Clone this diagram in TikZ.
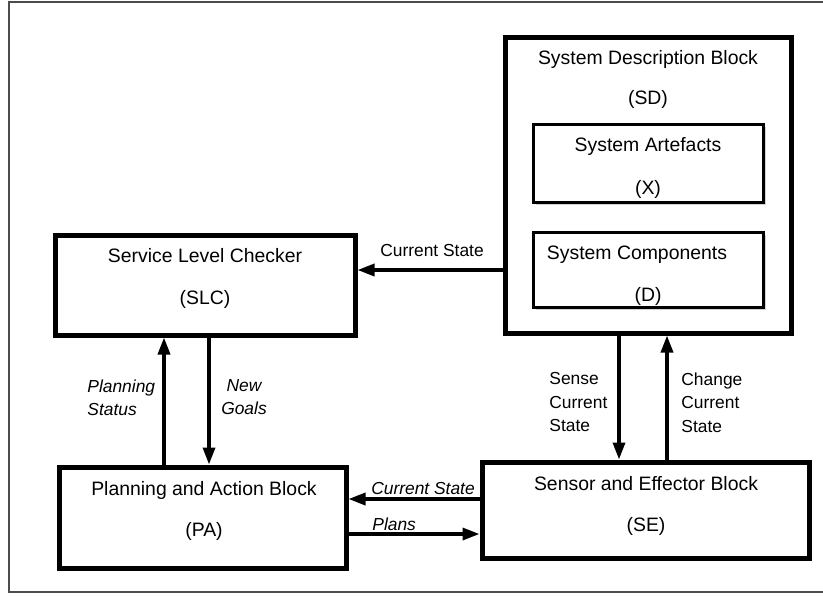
\documentclass[tikz,border=0pt]{standalone}
\usepackage{fontspec}
\setmainfont{Liberation Sans}
\usetikzlibrary{arrows.meta,shadows}

\tikzset{
  blk/.style={draw, line width=2.5pt, fill=white, inner sep=0pt,
    drop shadow={shadow xshift=1.3pt, shadow yshift=-1.3pt, opacity=.35}},
  subblk/.style={blk, line width=1.5pt},
  ttl/.style={font=\fontsize{9.7}{12}\selectfont, inner sep=0pt, anchor=base},
  lbl/.style={font=\fontsize{8.7}{11.8}\selectfont, inner sep=0pt},
  arr/.style={line width=1.7pt, -{Triangle[length=8.5pt,width=6pt]}},
}

\begin{document}
\begin{tikzpicture}[x=0.5pt,y=-0.5pt]
\useasboundingbox (0,0) rectangle (823,595);
% frame (its right side lies past the edge)
\draw[black!70, line width=1pt] (824,1.5) -- (9,1.5) -- (9,592) -- (824,592);

% blocks
\node[blk, minimum width=143pt, minimum height=148pt] (sd) at (648,185) {};
\node[subblk, minimum width=115pt, minimum height=39pt] (sa) at (648,163) {};
\node[subblk, minimum width=115pt, minimum height=37.5pt] (sc) at (648,269.5) {};
\node[blk, minimum width=150pt, minimum height=50pt] (slc) at (205,285) {};
\node[blk, minimum width=143.5pt, minimum height=50.5pt] (pa) at (202.5,517.5) {};
\node[blk, minimum width=163.5pt, minimum height=48pt] (se) at (645.5,510) {};

% block titles
\node[ttl] (sdname) at (648,64) {System Description Block};
\node[ttl] (sdcode) at (648,104) {(SD)};
\node[ttl] (saname) at (648,151) {System Artefacts};
\node[ttl] (sacode) at (648,194) {(X)};
\node[ttl] (scname) at (637,259) {System Components};
\node[ttl] (sccode) at (648,301) {(D)};
\node[ttl] (slcname) at (205,262) {Service Level Checker};
\node[ttl] (slccode) at (205,304) {(SLC)};
\node[ttl] (paname) at (204,495) {Planning and Action Block};
\node[ttl] (pacode) at (204,536) {(PA)};
\node[ttl] (sename) at (646,490) {Sensor and Effector Block};
\node[ttl] (secode) at (646,531) {(SE)};

% connectors
\draw[arr] (sd.west |- 0,270) -- (slc.east |- 0,270);
\draw[arr] (pa.north -| 164,0) -- (slc.south -| 164,0);
\draw[arr] (slc.south -| 209,0) -- (pa.north -| 209,0);
\draw[arr] (sd.south -| 619,0) -- (se.north -| 619,0);
\draw[arr] (se.north -| 667,0) -- (sd.south -| 667,0);
\draw[arr] (se.west |- 0,499) -- (pa.east |- 0,499);
\draw[arr] (pa.east |- 0,534) -- (se.west |- 0,534);

% connector labels
\node[lbl, anchor=base] (cstop) at (432,256) {Current State};
\node[lbl, align=left, anchor=north west] (pstat) at (87,379) {\itshape Planning\\\itshape Status};
\node[lbl, align=center, anchor=north] (goals) at (244,379) {\itshape New\\\itshape Goals};
\node[lbl, align=left, anchor=north west] (sense) at (549,372) {Sense\\Current\\State};
\node[lbl, align=left, anchor=north west] (change) at (681,372) {Change\\Current\\State};
\node[lbl, anchor=base, font=\fontsize{8.7}{11.8}\selectfont\itshape] (csbot) at (423,494) {Current State};
\node[lbl, anchor=base west, font=\fontsize{8.7}{11.8}\selectfont\itshape] (plans) at (372,530) {Plans};
\end{tikzpicture}
\end{document}
